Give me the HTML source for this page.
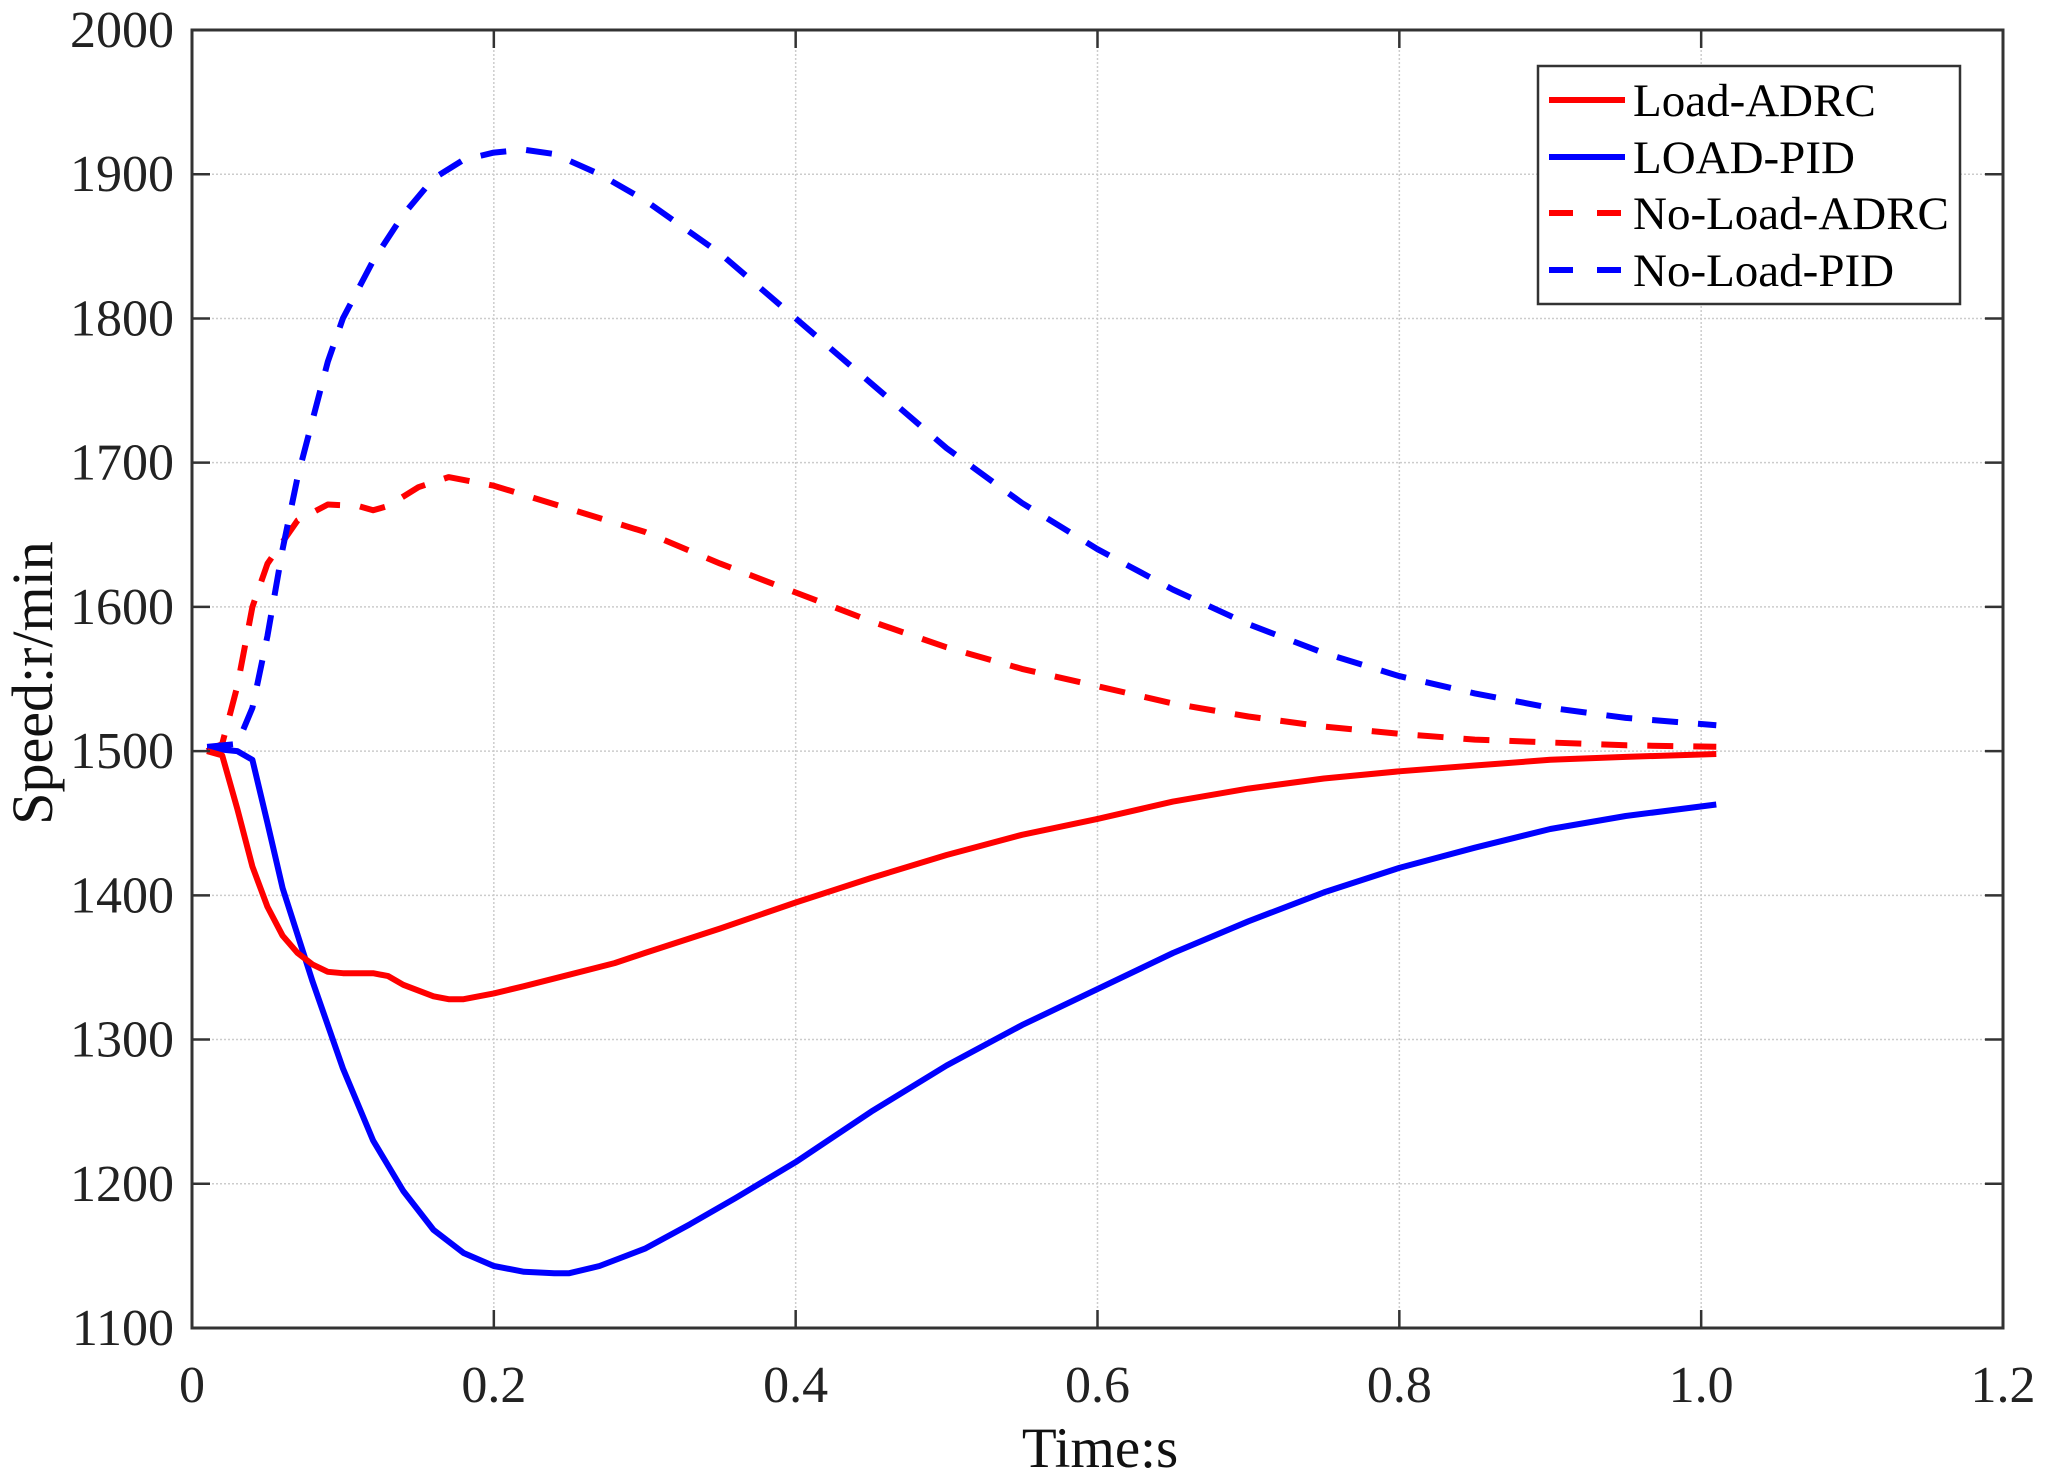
<!DOCTYPE html>
<html><head><meta charset="utf-8"><style>
html,body{margin:0;padding:0;background:#fff;}
svg{display:block;font-family:"Liberation Serif",serif;}
</style></head><body>
<svg id="chart" width="2049" height="1483" viewBox="0 0 2049 1483">
<rect x="0" y="0" width="2049" height="1483" fill="#fff"/>
<g id="grid"></g>
<g id="series"></g>
<rect x="192" y="30" width="1811" height="1298" fill="none" stroke="#333" stroke-width="3"/>
<g id="ticks"></g>
<text x="1100" y="1467" font-size="57" text-anchor="middle" fill="#111">Time:s</text>
<text transform="translate(52,683) rotate(-90)" font-size="58" text-anchor="middle" fill="#111">Speed:r/min</text>
<g>
<rect x="1538" y="66" width="422" height="238" fill="#fff" stroke="#333" stroke-width="2.5"/>
<g><line x1="1549" y1="100" x2="1625" y2="100" stroke="#ff0000" stroke-width="6"/><text x="1633" y="116" font-size="47" fill="#000">Load-ADRC</text></g>
<g><line x1="1549" y1="157" x2="1625" y2="157" stroke="#0000ff" stroke-width="6"/><text x="1633" y="173" font-size="47" fill="#000">LOAD-PID</text></g>
<g><line x1="1549" y1="213" x2="1625" y2="213" stroke="#ff0000" stroke-width="6" stroke-dasharray="24,24"/><text x="1633" y="229" font-size="47" fill="#000">No-Load-ADRC</text></g>
<g><line x1="1549" y1="270" x2="1625" y2="270" stroke="#0000ff" stroke-width="6" stroke-dasharray="24,24"/><text x="1633" y="286" font-size="47" fill="#000">No-Load-PID</text></g>
</g>
</svg>
<script>
const xTicks=[0,0.2,0.4,0.6,0.8,1.0,1.2];
const xTickLabels=["0","0.2","0.4","0.6","0.8","1.0","1.2"];
const yTicks=[1100,1200,1300,1400,1500,1600,1700,1800,1900,2000];
const loadAdrcT=[0.01,0.02,0.03,0.04,0.05,0.06,0.07,0.08,0.09,0.1,0.12,0.13,0.14,0.16,0.17,0.18,0.2,0.22,0.25,0.28,0.3,0.35,0.4,0.45,0.5,0.55,0.6,0.65,0.7,0.75,0.8,0.85,0.9,0.95,1.01];
const loadAdrcV=[1500,1497,1460,1420,1392,1372,1360,1352,1347,1346,1346,1344,1338,1330,1328,1328,1332,1337,1345,1353,1360,1377,1395,1412,1428,1442,1453,1465,1474,1481,1486,1490,1494,1496,1498];
const loadPidT=[0.01,0.03,0.04,0.05,0.06,0.08,0.1,0.12,0.14,0.16,0.18,0.2,0.22,0.24,0.25,0.27,0.3,0.33,0.36,0.4,0.45,0.5,0.55,0.6,0.65,0.7,0.75,0.8,0.85,0.9,0.95,1.01];
const loadPidV=[1502,1500,1494,1450,1405,1340,1280,1230,1195,1168,1152,1143,1139,1138,1138,1143,1155,1172,1190,1215,1250,1282,1310,1335,1360,1382,1402,1419,1433,1446,1455,1463];
const noLoadAdrcT=[0.01,0.02,0.03,0.04,0.05,0.07,0.09,0.11,0.12,0.13,0.15,0.17,0.2,0.25,0.3,0.35,0.4,0.45,0.5,0.55,0.6,0.65,0.7,0.75,0.8,0.85,0.9,0.95,1.01];
const noLoadAdrcV=[1500,1505,1545,1600,1630,1660,1671,1670,1667,1670,1683,1690,1684,1668,1652,1630,1610,1590,1572,1557,1545,1533,1524,1517,1512,1508,1506,1504,1503];
const noLoadPidT=[0.01,0.03,0.04,0.05,0.06,0.07,0.08,0.09,0.1,0.12,0.14,0.16,0.18,0.2,0.22,0.24,0.27,0.3,0.35,0.4,0.45,0.5,0.55,0.6,0.65,0.7,0.75,0.8,0.85,0.9,0.95,1.01];
const noLoadPidV=[1503,1505,1530,1580,1640,1690,1730,1770,1800,1840,1872,1897,1910,1915,1917,1914,1900,1882,1845,1800,1755,1710,1672,1640,1612,1588,1568,1552,1540,1530,1523,1518];

const L=192,R=2003,T=30,B=1328;
function xs(t){return L+(t/1.2)*(R-L);}
function ys(v){return B-(v-1100)/900*(B-T);}
const NS="http://www.w3.org/2000/svg";
function mk(tag,attrs,parent){const e=document.createElementNS(NS,tag);for(const k in attrs)e.setAttribute(k,attrs[k]);parent.appendChild(e);return e;}
const grid=document.getElementById('grid'),ticks=document.getElementById('ticks'),series=document.getElementById('series');
xTicks.forEach((t,i)=>{
  const x=xs(t);
  if(i>0&&i<xTicks.length-1){const g=mk('line',{x1:x,y1:T,x2:x,y2:B,stroke:'#ccc','stroke-width':1.5,'stroke-dasharray':'2,2'},grid);
  
  }
  mk('line',{x1:x,y1:B,x2:x,y2:B-18,stroke:'#333','stroke-width':2.5},ticks);
  mk('line',{x1:x,y1:T,x2:x,y2:T+18,stroke:'#333','stroke-width':2.5},ticks);
  const tx=mk('text',{x:x,y:1402,'font-size':52,'text-anchor':'middle',fill:'#222'},ticks);
  tx.textContent=xTickLabels[i];
  
  
});
yTicks.forEach((v,i)=>{
  const y=ys(v);
  if(i>0&&i<yTicks.length-1){const g=mk('line',{x1:L,y1:y,x2:R,y2:y,stroke:'#ccc','stroke-width':1.5,'stroke-dasharray':'2,2'},grid);
  
  }
  mk('line',{x1:L,y1:y,x2:L+18,y2:y,stroke:'#333','stroke-width':2.5},ticks);
  mk('line',{x1:R,y1:y,x2:R-18,y2:y,stroke:'#333','stroke-width':2.5},ticks);
  const tx=mk('text',{x:174,y:y+17,'font-size':52,'text-anchor':'end',fill:'#222'},ticks);
  tx.textContent=String(v);
  
  
});
function line(tArr,vArr,color,dash,name){
  const d=tArr.map((t,i)=>(i?'L':'M')+xs(t).toFixed(1)+','+ys(vArr[i]).toFixed(1)).join(' ');
  const p=mk('path',{d:d,fill:'none',stroke:color,'stroke-width':6,'stroke-linejoin':'round'},series);
  if(dash)p.setAttribute('stroke-dasharray',dash);
  
  
}
line(noLoadAdrcT,noLoadAdrcV,'#ff0000','26,20','no-load-adrc-line');
line(noLoadPidT,noLoadPidV,'#0000ff','26,20','no-load-pid-line');
line(loadPidT,loadPidV,'#0000ff',null,'load-pid-line');
line(loadAdrcT,loadAdrcV,'#ff0000',null,'load-adrc-line');
</script>
</body></html>
